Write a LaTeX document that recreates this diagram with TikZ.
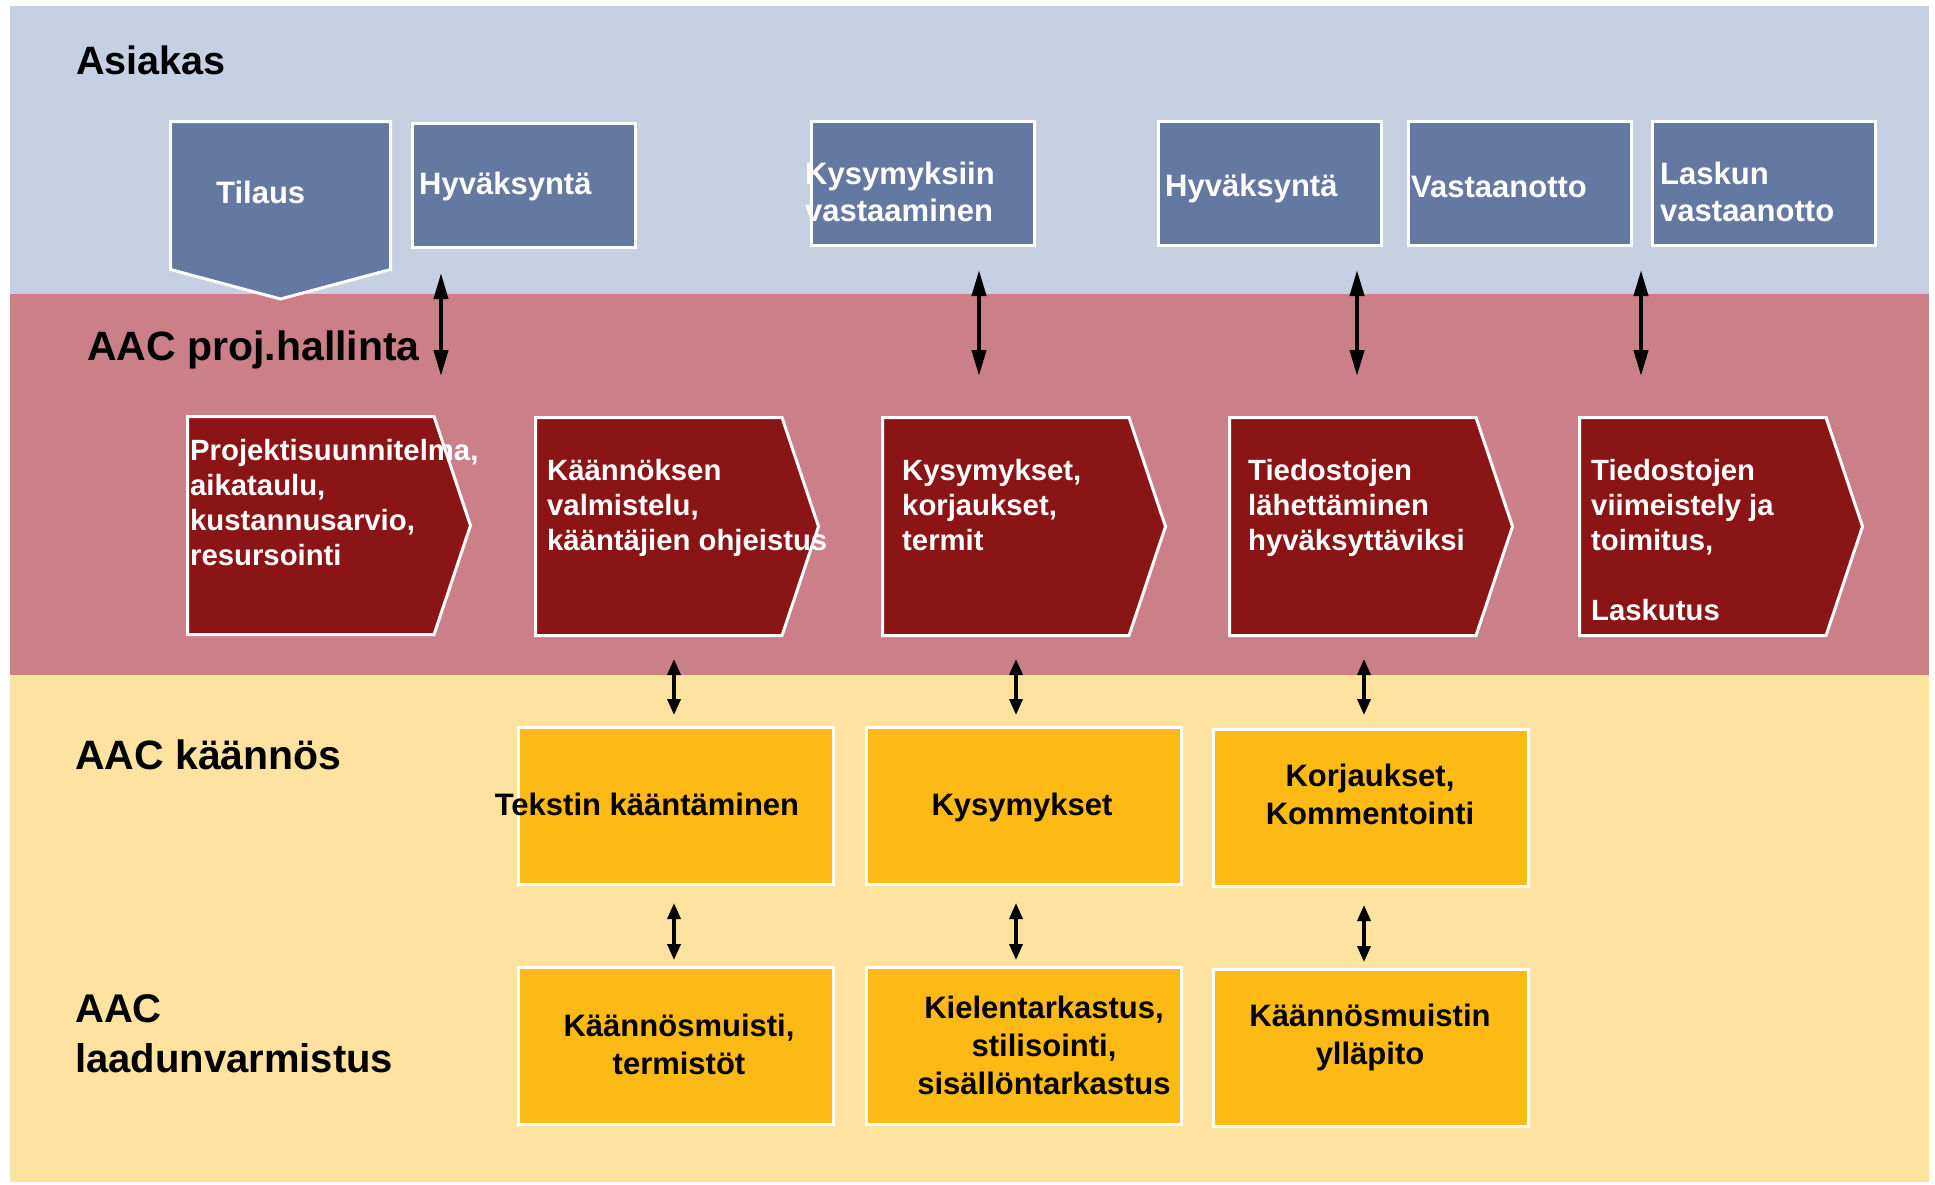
\documentclass[tikz,border=0pt]{standalone}
\usepackage{fontspec}
\setmainfont{Liberation Sans}
\usetikzlibrary{shapes.symbols,arrows.meta}
\definecolor{bandblue}{RGB}{198,208,227}
\definecolor{bandred}{RGB}{203,128,136}
\definecolor{bandyellow}{RGB}{253,226,160}
\definecolor{boxblue}{RGB}{99,121,161}
\definecolor{chevred}{RGB}{139,20,22}
\definecolor{boxyellow}{RGB}{253,185,20}
\tikzset{
	box/.style={rectangle, draw=white, line width=3pt, inner sep=0pt, anchor=north west},
	bluebox/.style={box, fill=boxblue, minimum width=223pt, minimum height=124pt},
	yelbox/.style={box, fill=boxyellow, minimum width=315pt, minimum height=157pt},
	chev/.style={signal, signal to=east, signal pointer angle=143, draw=white, line width=3pt, fill=chevred, inner sep=0pt, minimum width=283pt, minimum height=218pt, anchor=north west},
	lbl/.style={font=\fontsize{40}{50}\selectfont\bfseries, anchor=base west, inner sep=0pt},
	wtxt/.style={text=white, font=\fontsize{31}{35}\selectfont\bfseries, align=left, inner sep=0pt},
	rtxt/.style={wtxt, font=\fontsize{29.3}{35}\selectfont\bfseries, anchor=north west},
	btxt/.style={text=black, font=\fontsize{31}{38}\selectfont\bfseries, align=center, inner sep=0pt},
	dbl/.style={{Triangle[length=26pt,width=14pt]}-{Triangle[length=26pt,width=14pt]}, line width=4pt},
	dblsmall/.style={{Triangle[length=16pt,width=13pt]}-{Triangle[length=16pt,width=13pt]}, line width=3.5pt}
}
\begin{document}
\begin{tikzpicture}[x=1pt,y=-1pt]
	\useasboundingbox (0,0) rectangle (1935,1184);
	% bands
	\fill[bandblue] (10,6) rectangle (1929,294);
	\fill[bandred] (10,294) rectangle (1929,675);
	\fill[bandyellow] (10,675) rectangle (1929,1182);
	\node[lbl, font=\fontsize{39.6}{46}\selectfont\bfseries] (asiakas) at (76,74) {Asiakas};
	\node[lbl, font=\fontsize{41}{50}\selectfont\bfseries] (proj) at (87,360) {AAC proj.hallinta};
	\node[lbl, font=\fontsize{41}{50}\selectfont\bfseries] (kaannos) at (75,769) {AAC käännös};
	\node[lbl, anchor=north west, align=left] (laatu) at (75,987) {\strut AAC\\laadunvarmistus};
	% asiakas
	\node[signal, signal to=south, signal pointer angle=150, draw=white, line width=3pt, fill=boxblue, inner sep=0pt, minimum width=220pt, minimum height=148pt, anchor=north west] (tilaus) at (169,120) {};
	\node[bluebox] (hyv1) at (411,122) {};
	\node[bluebox] (kys) at (810,120) {};
	\node[bluebox] (hyv2) at (1157,120) {};
	\node[bluebox] (vast) at (1407,120) {};
	\node[bluebox] (lasku) at (1651,120) {};
	\node[wtxt, anchor=base west] (t-tilaus) at (216,203) {Tilaus};
	\node[wtxt, anchor=base west] (t-hyv1) at (419,194) {Hyväksyntä};
	\node[wtxt, font=\fontsize{31}{37}\selectfont\bfseries, anchor=north west] (t-kys) at (805,158) {\strut Kysymyksiin\\vastaaminen};
	\node[wtxt, anchor=base west] (t-hyv2) at (1165,196) {Hyväksyntä};
	\node[wtxt, anchor=base west] (t-vast) at (1411,197) {Vastaanotto};
	\node[wtxt, font=\fontsize{31}{37}\selectfont\bfseries, anchor=north west] (t-lasku) at (1660,158) {\strut Laskun\\vastaanotto};
	% proj.hallinta
	\node[chev] (c1) at (186,415) {};
	\node[chev] (c2) at (534,416) {};
	\node[chev] (c3) at (881,416) {};
	\node[chev] (c4) at (1228,416) {};
	\node[chev] (c5) at (1578,416) {};
	\node[rtxt] (t-c1) at (190,435.5) {\strut Projektisuunnitelma,\\aikataulu,\\kustannusarvio,\\resursointi};
	\node[rtxt] (t-c2) at (547,455.5) {\strut Käännöksen\\valmistelu,\\kääntäjien ohjeistus};
	\node[rtxt] (t-c3) at (902,455.5) {\strut Kysymykset,\\korjaukset,\\termit};
	\node[rtxt] (t-c4) at (1248,455.5) {\strut Tiedostojen\\lähettäminen\\hyväksyttäviksi};
	\node[rtxt] (t-c5) at (1591,455.5) {\strut Tiedostojen\\viimeistely ja\\toimitus,\\\strut\\Laskutus};
	% kaannos, laadunvarmistus
	\node[yelbox] (y1) at (517,726) {};
	\node[yelbox] (y2) at (865,726) {};
	\node[yelbox] (y3) at (1212,728) {};
	\node[yelbox] (y4) at (517,966) {};
	\node[yelbox] (y5) at (865,966) {};
	\node[yelbox] (y6) at (1212,968) {};
	\node[btxt, anchor=base] (t-y1) at (647,815) {Tekstin kääntäminen};
	\node[btxt, anchor=base] (t-y2) at (1022,815) {Kysymykset};
	\node[btxt, anchor=north] (t-y3) at (1370,759.4) {\strut Korjaukset,\\Kommentointi};
	\node[btxt, anchor=north] (t-y4) at (679,1009.4) {\strut Käännösmuisti,\\termistöt};
	\node[btxt, anchor=north] (t-y5) at (1044,991.4) {\strut Kielentarkastus,\\stilisointi,\\sisällöntarkastus};
	\node[btxt, anchor=north] (t-y6) at (1370,999.4) {\strut Käännösmuistin\\ylläpito};
	% arrows
	\draw[dbl, shorten <=24pt, shorten >=39pt] (441,0 |- hyv1.south) -- (441,0 |- c1.north);
	\draw[dbl, shorten <=23pt, shorten >=40pt] (979,0 |- kys.south) -- (979,0 |- c3.north);
	\draw[dbl, shorten <=23pt, shorten >=40pt] (1357,0 |- hyv2.south) -- (1357,0 |- c4.north);
	\draw[dbl, shorten <=23pt, shorten >=40pt] (1641,0 |- lasku.south) -- (1641,0 |- c5.north);
	\draw[dblsmall, shorten <=22pt, shorten >=11pt] (674,0 |- c2.south) -- (674,0 |- y1.north);
	\draw[dblsmall, shorten <=22pt, shorten >=11pt] (1016,0 |- c3.south) -- (1016,0 |- y2.north);
	\draw[dblsmall, shorten <=22pt, shorten >=13pt] (1364,0 |- c4.south) -- (1364,0 |- y3.north);
	\draw[dblsmall, shorten <=17pt, shorten >=6pt] (674,0 |- y1.south) -- (674,0 |- y4.north);
	\draw[dblsmall, shorten <=17pt, shorten >=6pt] (1016,0 |- y2.south) -- (1016,0 |- y5.north);
	\draw[dblsmall, shorten <=17pt, shorten >=6pt] (1364,0 |- y3.south) -- (1364,0 |- y6.north);
\end{tikzpicture}
\end{document}
